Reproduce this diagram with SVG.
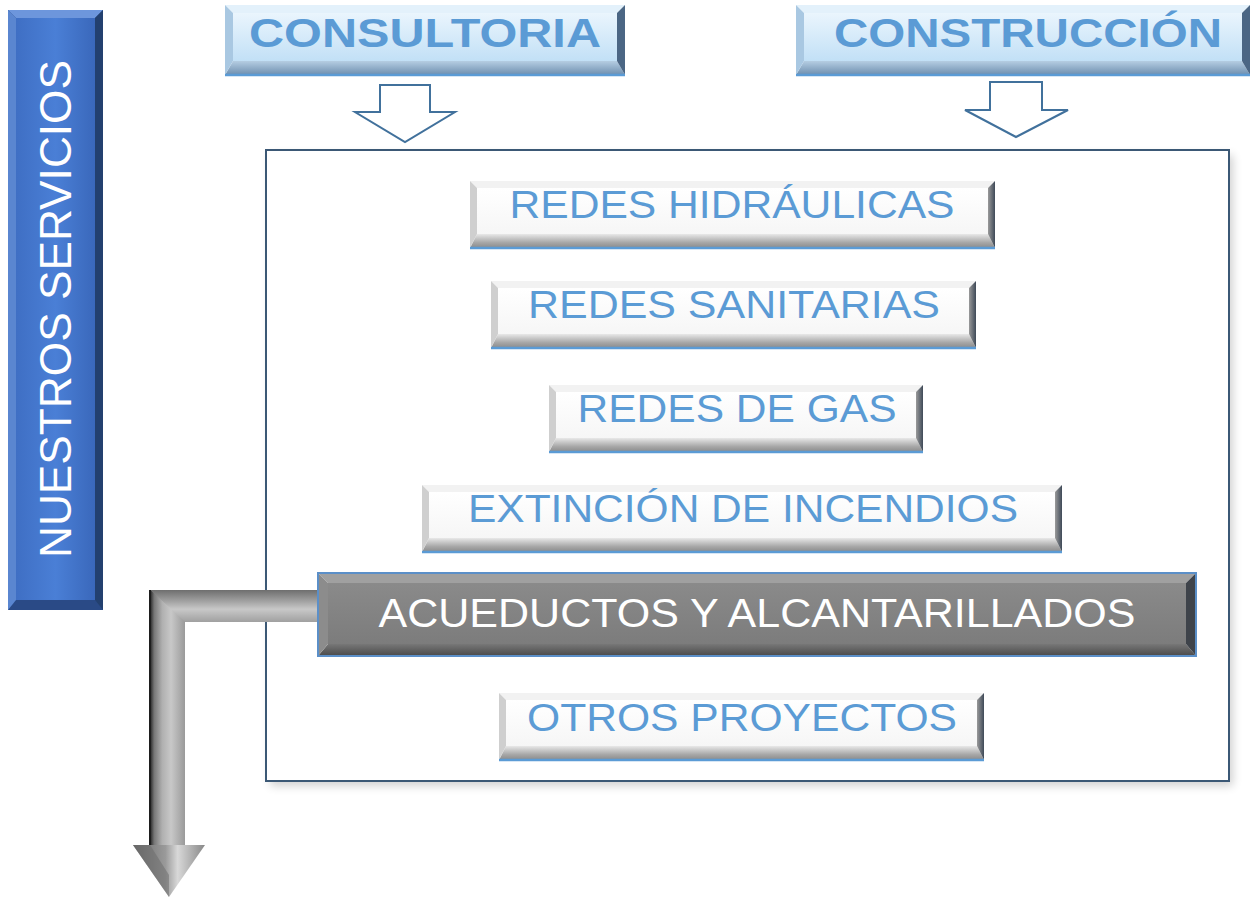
<svg xmlns="http://www.w3.org/2000/svg" width="1252" height="898" viewBox="0 0 1252 898">
<defs>
<filter id="sh" x="-5%" y="-5%" width="110%" height="110%"><feGaussianBlur stdDeviation="5"/></filter>
<linearGradient id="gBot" x1="0" y1="0" x2="0" y2="1"><stop offset="0" stop-color="#e8e8e8"/><stop offset="0.6" stop-color="#a8a8a8"/><stop offset="1" stop-color="#8a8a8a"/></linearGradient>
<linearGradient id="gFace" x1="0" y1="0" x2="0" y2="1"><stop offset="0" stop-color="#ffffff"/><stop offset="1" stop-color="#f6f6f6"/></linearGradient>
<linearGradient id="gRight" x1="0" y1="0" x2="1" y2="0"><stop offset="0" stop-color="#9a9a9a"/><stop offset="1" stop-color="#3f4a58"/></linearGradient>
<linearGradient id="hFace" x1="0" y1="0" x2="0" y2="1"><stop offset="0" stop-color="#eaf5fd"/><stop offset="1" stop-color="#c2e0f6"/></linearGradient>
<linearGradient id="hBot" x1="0" y1="0" x2="0" y2="1"><stop offset="0" stop-color="#b5cde2"/><stop offset="1" stop-color="#6d8eaf"/></linearGradient>
<linearGradient id="bFace" x1="0" y1="0" x2="1" y2="0"><stop offset="0" stop-color="#3f6fc4"/><stop offset="0.5" stop-color="#4a7fd6"/><stop offset="1" stop-color="#3a68bb"/></linearGradient>
<linearGradient id="grFace" x1="0" y1="0" x2="0" y2="1"><stop offset="0" stop-color="#8a8a8a"/><stop offset="1" stop-color="#7c7c7c"/></linearGradient>
<linearGradient id="grBot" x1="0" y1="0" x2="0" y2="1"><stop offset="0" stop-color="#777"/><stop offset="1" stop-color="#4a4a4a"/></linearGradient>
<linearGradient id="shaftV" x1="0" y1="0" x2="1" y2="0"><stop offset="0" stop-color="#222"/><stop offset="0.12" stop-color="#777"/><stop offset="0.35" stop-color="#b0b0b0"/><stop offset="0.6" stop-color="#c8c8c8"/><stop offset="1" stop-color="#9a9a9a"/></linearGradient>
<linearGradient id="shaftH" x1="0" y1="0" x2="0" y2="1"><stop offset="0" stop-color="#6e6e6e"/><stop offset="0.3" stop-color="#9a9a9a"/><stop offset="0.6" stop-color="#c8c8c8"/><stop offset="1" stop-color="#a0a0a0"/></linearGradient>
<linearGradient id="headG" x1="0" y1="0" x2="1" y2="0"><stop offset="0" stop-color="#666"/><stop offset="0.45" stop-color="#9a9a9a"/><stop offset="0.62" stop-color="#d8d8d8"/><stop offset="1" stop-color="#888"/></linearGradient>
<style>
.top{fill:#f2f2f2}.bot{fill:url(#gBot)}.lft{fill:#cfcfcf}.rgt{fill:url(#gRight)}.face{fill:url(#gFace)}
.bl{stroke:#5b9bd5;stroke-width:2.5;fill:none}
.t{font-family:"Liberation Sans",Arial,sans-serif;fill:#5b9bd5;text-anchor:middle;font-size:38px}
.hd{font-family:"Liberation Sans",Arial,sans-serif;font-weight:bold;fill:#5b9bd5;text-anchor:middle;font-size:40px}
.hollow{fill:#ffffff;stroke:#41719c;stroke-width:2}
</style>
</defs>

<g id="frame">
<rect x="270" y="155" width="963" height="631" fill="#000" opacity="0.18" filter="url(#sh)"/>
<rect x="266" y="150" width="963" height="631" fill="#ffffff" stroke="#3b5875" stroke-width="2"/>
</g>

<g id="nuestros-servicios">
<rect x="8" y="10" width="95" height="600" fill="#2c4f8e"/>
<polygon points="8,10 103,10 95,18 16,18" fill="#6d96dc"/>
<polygon points="8,610 103,610 95,600 16,600" fill="#2a4a86"/>
<polygon points="8,10 16,18 16,600 8,610" fill="#5a86d0"/>
<polygon points="103,10 103,610 95,600 95,18" fill="#23406f"/>
<rect x="16" y="18" width="79" height="582" fill="url(#bFace)"/>
<text x="0" y="0" transform="translate(71,309) rotate(-90)" font-family="Liberation Sans,Arial,sans-serif" font-size="44" fill="#ffffff" text-anchor="middle" textLength="498" lengthAdjust="spacingAndGlyphs">NUESTROS SERVICIOS</text>
</g>

<g id="consultoria">
<polygon points="225,5 625,5 617,13 233,13" fill="#e3f1fb"/>
<polygon points="225,75 625,75 617,61 233,61" fill="url(#hBot)"/>
<polygon points="225,5 233,13 233,61 225,75" fill="#a9c8e2"/>
<polygon points="625,5 625,75 617,61 617,13" fill="#4b6684"/>
<rect x="233" y="13" width="384" height="48" fill="url(#hFace)"/>
<line x1="225" y1="75" x2="625" y2="75" class="bl"/>
<text x="425" y="47" class="hd" textLength="352" lengthAdjust="spacingAndGlyphs">CONSULTORIA</text>
</g>

<g id="construccion">
<polygon points="796,5 1250,5 1242,13 804,13" fill="#e3f1fb"/>
<polygon points="796,75 1250,75 1242,61 804,61" fill="url(#hBot)"/>
<polygon points="796,5 804,13 804,61 796,75" fill="#a9c8e2"/>
<polygon points="1250,5 1250,75 1242,61 1242,13" fill="#4b6684"/>
<rect x="804" y="13" width="438" height="48" fill="url(#hFace)"/>
<line x1="796" y1="75" x2="1250" y2="75" class="bl"/>
<text x="1028" y="47" class="hd" textLength="388" lengthAdjust="spacingAndGlyphs">CONSTRUCCIÓN</text>
</g>

<g id="connectors">
<polygon class="hollow" points="380,85 430,85 430,112 455,112 405,142 355,112 380,112"/>
<polygon class="hollow" points="990,82 1042,82 1042,110 1068,110 1016,137 965,110 990,110"/>
<g id="gray-arrow">
<rect x="150" y="590" width="35" height="257" fill="url(#shaftV)"/>
<polygon points="150,590 318,590 318,622 185,622 150,590" fill="url(#shaftH)"/>
<polygon points="150,590 185,622 185,640 150,640" fill="url(#shaftV)"/>
<polygon points="133,845 205,845 169,897" fill="url(#headG)"/>
<polygon points="133,845 150,845 169,875 169,897" fill="#6a6a6a" opacity="0.5"/>
<line x1="150" y1="590" x2="150" y2="845" stroke="#1e1e1e" stroke-width="2"/>
</g>
</g>

<g id="redes-hidraulicas">
<polygon class="top" points="470,181 995,181 988,188 477,188"/>
<polygon class="bot" points="470,248 995,248 988,234 477,234"/>
<polygon class="lft" points="470,181 477,188 477,234 470,248"/>
<polygon class="rgt" points="995,181 995,248 988,234 988,188"/>
<rect class="face" x="477" y="188" width="511" height="46"/>
<line class="bl" x1="470" y1="248" x2="995" y2="248"/>
<text class="t" x="732" y="218" textLength="445" lengthAdjust="spacingAndGlyphs">REDES HIDRÁULICAS</text>
</g>

<g id="redes-sanitarias">
<polygon class="top" points="491,281 976,281 969,288 498,288"/>
<polygon class="bot" points="491,348 976,348 969,334 498,334"/>
<polygon class="lft" points="491,281 498,288 498,334 491,348"/>
<polygon class="rgt" points="976,281 976,348 969,334 969,288"/>
<rect class="face" x="498" y="288" width="471" height="46"/>
<line class="bl" x1="491" y1="348" x2="976" y2="348"/>
<text class="t" x="734" y="318" textLength="412" lengthAdjust="spacingAndGlyphs">REDES SANITARIAS</text>
</g>

<g id="redes-de-gas">
<polygon class="top" points="549,385 923,385 916,392 556,392"/>
<polygon class="bot" points="549,452 923,452 916,438 556,438"/>
<polygon class="lft" points="549,385 556,392 556,438 549,452"/>
<polygon class="rgt" points="923,385 923,452 916,438 916,392"/>
<rect class="face" x="556" y="392" width="360" height="46"/>
<line class="bl" x1="549" y1="452" x2="923" y2="452"/>
<text class="t" x="737" y="422" textLength="319" lengthAdjust="spacingAndGlyphs">REDES DE GAS</text>
</g>

<g id="extincion-de-incendios">
<polygon class="top" points="422,485 1062,485 1055,492 429,492"/>
<polygon class="bot" points="422,552 1062,552 1055,538 429,538"/>
<polygon class="lft" points="422,485 429,492 429,538 422,552"/>
<polygon class="rgt" points="1062,485 1062,552 1055,538 1055,492"/>
<rect class="face" x="429" y="492" width="626" height="46"/>
<line class="bl" x1="422" y1="552" x2="1062" y2="552"/>
<text class="t" x="743" y="522" textLength="550" lengthAdjust="spacingAndGlyphs">EXTINCIÓN DE INCENDIOS</text>
</g>

<g id="acueductos">
<polygon points="318,573 1196,573 1186,583 328,583" fill="#a0a0a0"/>
<polygon points="318,656 1196,656 1186,644 328,644" fill="url(#grBot)"/>
<polygon points="318,573 328,583 328,644 318,656" fill="#8c8c8c"/>
<polygon points="1196,573 1196,656 1186,644 1186,583" fill="#3e434a"/>
<rect x="328" y="583" width="858" height="61" fill="url(#grFace)"/>
<rect x="318" y="573" width="878" height="83" fill="none" stroke="#5b8fc8" stroke-width="2"/>
<text x="757" y="627" font-family="Liberation Sans,Arial,sans-serif" font-size="41" fill="#ffffff" text-anchor="middle" textLength="757" lengthAdjust="spacingAndGlyphs">ACUEDUCTOS Y ALCANTARILLADOS</text>
</g>

<g id="otros-proyectos">
<polygon class="top" points="499,693 984,693 977,700 506,700"/>
<polygon class="bot" points="499,760 984,760 977,746 506,746"/>
<polygon class="lft" points="499,693 506,700 506,746 499,760"/>
<polygon class="rgt" points="984,693 984,760 977,746 977,700"/>
<rect class="face" x="506" y="700" width="471" height="46"/>
<line class="bl" x1="499" y1="760" x2="984" y2="760"/>
<text class="t" x="742" y="731" textLength="430" lengthAdjust="spacingAndGlyphs">OTROS PROYECTOS</text>
</g>
</svg>
